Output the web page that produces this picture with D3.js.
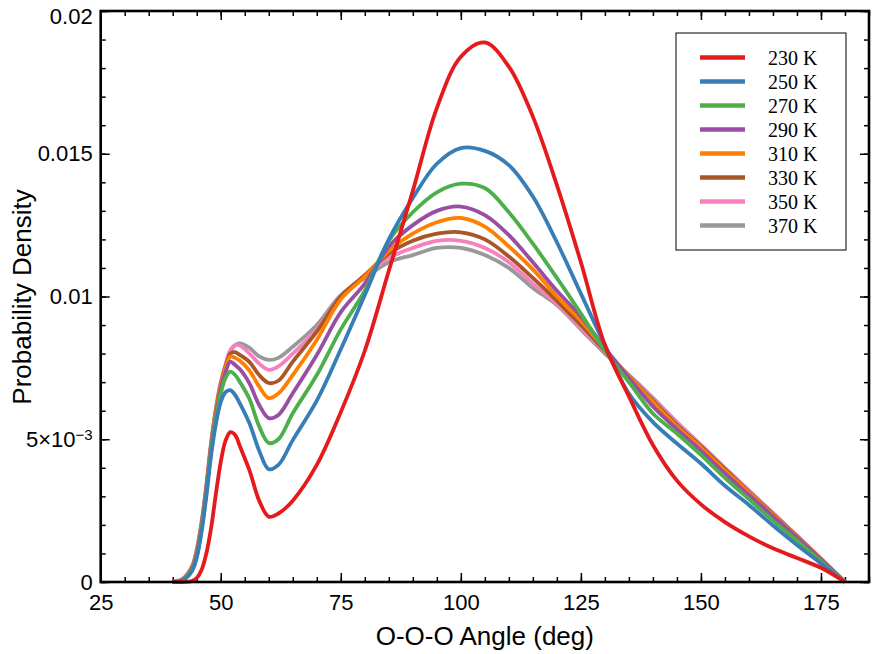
<!DOCTYPE html>
<html>
<head>
<meta charset="utf-8">
<script src="https://cdn.jsdelivr.net/npm/d3@7"></script>
<style>
body{margin:0;background:#fff;}
.axis text{font-family:"Liberation Sans",Arial,sans-serif;font-size:22px;fill:#000;}
.axis line{stroke:#000;stroke-width:1.5;}
</style>
</head>
<body>
<svg width="873" height="654"></svg>
<script>
// angle grid (deg); densities below are in units of 1e-3
var angles = [40,42,44,45,46,47,48,49,50,51,52,53,54,56,58,60,62,65,70,75,80,85,90,95,100,105,110,115,120,125,130,135,140,145,150,155,160,165,170,175,180];

var t230 = [0,0,0.03,0.14,0.42,1.0,1.9,3.1,4.2,4.95,5.25,5.15,4.75,3.9,2.85,2.29,2.4,2.85,4.1,5.95,8.1,10.9,13.7,16.6,18.4,18.9,18.05,16.3,13.9,11.2,8.3,6.5,4.8,3.55,2.72,2.1,1.6,1.18,0.84,0.5,0];
var t250 = [0,0.05,0.38,0.85,1.75,3.0,4.45,5.55,6.3,6.65,6.72,6.55,6.25,5.55,4.6,3.95,4.1,4.97,6.35,8.15,10.05,12.0,13.45,14.65,15.2,15.1,14.6,13.5,11.9,10.1,8.3,6.6,5.6,4.85,4.15,3.37,2.7,1.98,1.3,0.65,0];
var t270 = [0,0.06,0.42,0.9,1.85,3.1,4.6,5.75,6.6,7.15,7.37,7.25,7.0,6.4,5.45,4.87,5.0,5.91,7.25,8.85,10.2,11.95,12.95,13.65,13.95,13.8,12.95,11.85,10.65,9.4,8.1,7.0,5.9,5.2,4.45,3.65,2.9,2.15,1.45,0.72,0];
var t290 = [0,0.07,0.45,0.95,1.9,3.2,4.7,5.85,6.75,7.35,7.72,7.6,7.45,6.95,6.2,5.74,5.85,6.61,7.95,9.45,10.45,11.75,12.5,13.0,13.15,12.85,12.15,11.2,10.2,9.3,8.2,7.15,6.15,5.35,4.6,3.8,3.05,2.3,1.55,0.78,0];
var t310 = [0,0.08,0.48,1.0,1.95,3.25,4.75,5.95,6.85,7.5,7.9,7.85,7.75,7.4,6.85,6.44,6.6,7.25,8.48,9.9,10.7,11.6,12.2,12.6,12.75,12.45,11.75,10.95,10.0,9.15,8.15,7.2,6.3,5.45,4.7,3.9,3.12,2.35,1.58,0.8,0];
var t330 = [0,0.08,0.5,1.05,2.0,3.3,4.8,6.0,6.9,7.55,8.0,8.05,7.95,7.7,7.25,6.97,7.05,7.72,8.77,10.0,10.75,11.5,11.95,12.2,12.25,12.0,11.4,10.65,9.85,9.0,8.1,7.2,6.35,5.5,4.75,3.95,3.15,2.38,1.6,0.8,0];
var t350 = [0,0.1,0.52,1.1,2.05,3.35,4.85,6.05,6.95,7.6,8.13,8.3,8.28,8.0,7.65,7.43,7.55,8.0,8.85,10.0,10.7,11.35,11.7,11.95,11.95,11.7,11.2,10.45,9.75,8.9,8.05,7.22,6.4,5.58,4.8,3.98,3.2,2.4,1.62,0.82,0];
var t370 = [0,0.1,0.55,1.15,2.1,3.4,4.9,6.1,7.0,7.6,8.07,8.3,8.36,8.2,7.9,7.78,7.85,8.24,9.0,10.05,10.65,11.2,11.45,11.7,11.7,11.45,11.0,10.3,9.7,8.85,8.0,7.25,6.45,5.6,4.8,4.0,3.2,2.42,1.62,0.82,0];

var names = ["230 K","250 K","270 K","290 K","310 K","330 K","350 K","370 K"];
var colors = ["#e41a1c","#377eb8","#4daf4a","#984ea3","#ff7f00","#a65628","#f781bf","#999999"];
var series = [t230,t250,t270,t290,t310,t330,t350,t370];

var xTicks = [25,50,75,100,125,150,175];
var yTicks = [0,5,10,15,20];
var yTickLabels = ["0","5×10","0.01","0.015","0.02"];

var margin = {left:100.7, right:4, top:11, bottom:72};
var width = 873, height = 654;

var svg = d3.select("svg");

var x = d3.scaleLinear().domain([25,185]).range([margin.left, width-margin.right]);
var y = d3.scaleLinear().domain([0,20]).range([height-margin.bottom, margin.top]);

var xMinor = d3.range(25,186,5);
var yMinor = d3.range(0,20.5,1);

// minor ticks on all four sides
svg.append("g").attr("class","axis")
  .attr("transform","translate(0,"+y(0)+")")
  .call(d3.axisBottom(x).tickValues(xMinor).tickSize(-5).tickFormat(""));
svg.append("g").attr("class","axis")
  .attr("transform","translate(0,"+y(20)+")")
  .call(d3.axisTop(x).tickValues(xMinor).tickSize(-5).tickFormat(""));
svg.append("g").attr("class","axis")
  .attr("transform","translate("+x(25)+",0)")
  .call(d3.axisLeft(y).tickValues(yMinor).tickSize(-5).tickFormat(""));
svg.append("g").attr("class","axis")
  .attr("transform","translate("+x(185)+",0)")
  .call(d3.axisRight(y).tickValues(yMinor).tickSize(-5).tickFormat(""));

// major ticks
svg.append("g").attr("class","axis")
  .attr("transform","translate(0,"+y(0)+")")
  .call(d3.axisBottom(x).tickValues(xTicks).tickSize(-9).tickPadding(12).tickFormat(d3.format("d")));
svg.append("g").attr("class","axis")
  .attr("transform","translate(0,"+y(20)+")")
  .call(d3.axisTop(x).tickValues(xTicks).tickSize(-9).tickFormat(""));
var yAx = svg.append("g").attr("class","axis")
  .attr("transform","translate("+x(25)+",0)")
  .call(d3.axisLeft(y).tickValues(yTicks).tickSize(-9).tickPadding(8)
    .tickFormat(function(d,i){ return yTickLabels[i]; }));
svg.append("g").attr("class","axis")
  .attr("transform","translate("+x(185)+",0)")
  .call(d3.axisRight(y).tickValues(yTicks).tickSize(-9).tickFormat(""));

svg.selectAll(".axis .domain").remove();

// superscript for 5x10^-3, nudge top label down
yAx.selectAll(".tick text").filter(function(d){ return d===5; })
  .append("tspan").attr("dy","-0.45em").attr("font-size","15px").text("\u22123");
yAx.selectAll(".tick text").filter(function(d){ return d===20; })
  .attr("dy","0.55em");

// curves
var line = d3.line()
  .x(function(d,i){ return x(angles[i]); })
  .y(function(d){ return y(d); })
  .curve(d3.curveCatmullRom.alpha(0.5));

var order = d3.range(series.length).reverse();
svg.append("g").selectAll("path")
  .data(order)
  .enter()
  .append("path")
  .attr("d", function(k){ return line(series[k]); })
  .attr("fill","none")
  .attr("stroke", function(k){ return colors[k]; })
  .attr("stroke-width",3.8)
  .attr("stroke-linejoin","round");

// frame
svg.append("rect")
  .attr("x", x(25)).attr("y", y(20))
  .attr("width", x(185)-x(25)).attr("height", y(0)-y(20))
  .attr("fill","none").attr("stroke","#000").attr("stroke-width",2.6);

// axis titles
svg.append("text")
  .attr("x", (x(25)+x(185))/2).attr("y", 645)
  .attr("text-anchor","middle")
  .style("font-family","'Liberation Sans',Arial,sans-serif").style("font-size","26px")
  .text("O-O-O Angle (deg)");
svg.append("text")
  .attr("transform","translate(31,297) rotate(-90)")
  .attr("text-anchor","middle")
  .style("font-family","'Liberation Sans',Arial,sans-serif").style("font-size","26px")
  .text("Probability Density");

// legend
var lg = svg.append("g").attr("transform","translate(676,33)");
lg.append("rect").attr("width",170).attr("height",217)
  .attr("fill","#fff").attr("stroke","#000").attr("stroke-width",1);
var item = lg.selectAll(".item").data(names).enter().append("g")
  .attr("transform", function(d,i){ return "translate(0,"+(24.5+i*24)+")"; });
item.append("line").attr("x1",24).attr("x2",69)
  .attr("stroke", function(d,i){ return colors[i]; }).attr("stroke-width",4.5);
item.append("text").attr("x",92).attr("y",7)
  .style("font-family","'Liberation Serif','Times New Roman',serif").style("font-size","20px")
  .text(function(d){ return d; });
</script>
</body>
</html>
